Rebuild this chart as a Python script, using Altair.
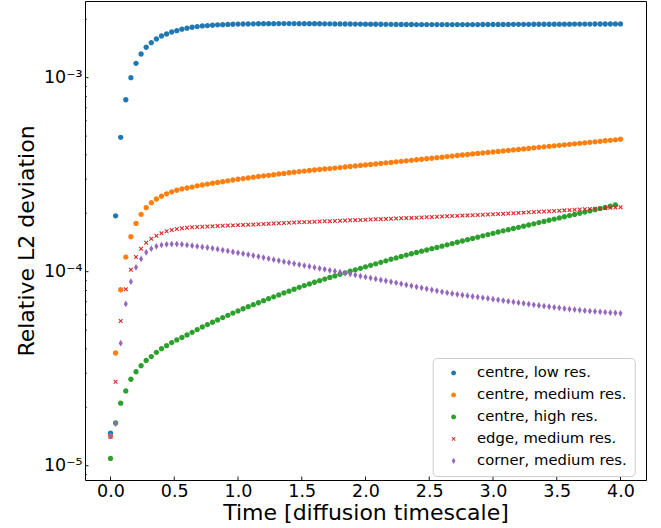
import altair as alt
import pandas as pd

# ---------------- data ----------------
series_names = ["centre, low res.", "centre, medium res.", "centre, high res.",
                "edge, medium res.", "corner, medium res."]
series_colors = ["#1f77b4", "#ff7f0e", "#2ca02c", "#d62728", "#9467bd"]

time_step = 0.04  # output interval in diffusion timescales

centre_low = [
    1.47e-5, 1.94e-4, 4.93e-4, 7.70e-4, 1.000e-3, 1.186e-3, 1.325e-3, 1.435e-3, 1.515e-3, 1.584e-3,
    1.640e-3, 1.680e-3, 1.720e-3, 1.747e-3, 1.778e-3, 1.800e-3, 1.820e-3, 1.835e-3, 1.848e-3, 1.857e-3,
    1.865e-3, 1.872e-3, 1.877e-3, 1.882e-3, 1.886e-3, 1.889e-3, 1.892e-3, 1.894e-3, 1.896e-3, 1.897e-3,
    1.898e-3, 1.899e-3, 1.899e-3, 1.900e-3, 1.900e-3, 1.900e-3, 1.900e-3, 1.899e-3, 1.899e-3, 1.898e-3,
    1.898e-3, 1.897e-3, 1.896e-3, 1.895e-3, 1.894e-3, 1.893e-3, 1.892e-3, 1.891e-3, 1.890e-3, 1.889e-3,
    1.888e-3, 1.887e-3, 1.886e-3, 1.885e-3, 1.884e-3, 1.883e-3, 1.882e-3, 1.881e-3, 1.880e-3, 1.880e-3,
    1.879e-3, 1.879e-3, 1.878e-3, 1.878e-3, 1.878e-3, 1.878e-3, 1.878e-3, 1.878e-3, 1.878e-3, 1.878e-3,
    1.879e-3, 1.879e-3, 1.879e-3, 1.880e-3, 1.880e-3, 1.881e-3, 1.881e-3, 1.882e-3, 1.882e-3, 1.883e-3,
    1.883e-3, 1.884e-3, 1.884e-3, 1.885e-3, 1.885e-3, 1.886e-3, 1.886e-3, 1.887e-3, 1.887e-3, 1.888e-3,
    1.888e-3, 1.889e-3, 1.889e-3, 1.890e-3, 1.890e-3, 1.891e-3, 1.891e-3, 1.892e-3, 1.892e-3, 1.893e-3,
    1.893e-3,
]

centre_medium = [
    1.42e-5, 3.81e-5, 8.07e-5, 1.190e-4, 1.514e-4, 1.774e-4, 1.976e-4, 2.138e-4, 2.270e-4, 2.370e-4,
    2.450e-4, 2.520e-4, 2.580e-4, 2.630e-4, 2.670e-4, 2.700e-4, 2.730e-4, 2.770e-4, 2.800e-4, 2.830e-4,
    2.860e-4, 2.885e-4, 2.910e-4, 2.940e-4, 2.970e-4, 2.995e-4, 3.020e-4, 3.045e-4, 3.070e-4, 3.095e-4,
    3.120e-4, 3.140e-4, 3.165e-4, 3.190e-4, 3.210e-4, 3.235e-4, 3.260e-4, 3.280e-4, 3.300e-4, 3.325e-4,
    3.345e-4, 3.365e-4, 3.385e-4, 3.400e-4, 3.420e-4, 3.440e-4, 3.465e-4, 3.485e-4, 3.505e-4, 3.530e-4,
    3.550e-4, 3.570e-4, 3.595e-4, 3.615e-4, 3.640e-4, 3.660e-4, 3.685e-4, 3.705e-4, 3.730e-4, 3.750e-4,
    3.775e-4, 3.800e-4, 3.820e-4, 3.845e-4, 3.870e-4, 3.895e-4, 3.920e-4, 3.945e-4, 3.970e-4, 3.995e-4,
    4.020e-4, 4.045e-4, 4.070e-4, 4.095e-4, 4.120e-4, 4.145e-4, 4.170e-4, 4.195e-4, 4.220e-4, 4.245e-4,
    4.270e-4, 4.295e-4, 4.320e-4, 4.350e-4, 4.375e-4, 4.400e-4, 4.430e-4, 4.455e-4, 4.480e-4, 4.510e-4,
    4.535e-4, 4.560e-4, 4.590e-4, 4.615e-4, 4.645e-4, 4.670e-4, 4.700e-4, 4.730e-4, 4.755e-4, 4.785e-4,
    4.815e-4,
]

centre_high = [
    1.09e-5, 1.66e-5, 2.10e-5, 2.43e-5, 2.79e-5, 3.05e-5, 3.28e-5, 3.49e-5, 3.65e-5, 3.84e-5,
    4.01e-5, 4.155e-5, 4.31e-5, 4.45e-5, 4.58e-5, 4.72e-5, 4.87e-5, 5.03e-5, 5.19e-5, 5.34e-5,
    5.49e-5, 5.64e-5, 5.80e-5, 5.96e-5, 6.12e-5, 6.28e-5, 6.44e-5, 6.60e-5, 6.76e-5, 6.92e-5,
    7.09e-5, 7.26e-5, 7.42e-5, 7.59e-5, 7.77e-5, 7.94e-5, 8.12e-5, 8.31e-5, 8.48e-5, 8.65e-5,
    8.82e-5, 8.99e-5, 9.16e-5, 9.34e-5, 9.51e-5, 9.70e-5, 9.87e-5, 1.005e-4, 1.023e-4, 1.041e-4,
    1.060e-4, 1.079e-4, 1.098e-4, 1.118e-4, 1.138e-4, 1.159e-4, 1.178e-4, 1.199e-4, 1.218e-4, 1.237e-4,
    1.256e-4, 1.276e-4, 1.294e-4, 1.314e-4, 1.334e-4, 1.354e-4, 1.375e-4, 1.396e-4, 1.418e-4, 1.440e-4,
    1.462e-4, 1.485e-4, 1.506e-4, 1.530e-4, 1.553e-4, 1.577e-4, 1.602e-4, 1.625e-4, 1.646e-4, 1.670e-4,
    1.694e-4, 1.716e-4, 1.741e-4, 1.766e-4, 1.791e-4, 1.815e-4, 1.841e-4, 1.867e-4, 1.894e-4, 1.919e-4,
    1.946e-4, 1.974e-4, 2.000e-4, 2.029e-4, 2.058e-4, 2.087e-4, 2.115e-4, 2.145e-4, 2.176e-4, 2.207e-4,
]

edge_medium = [
    1.41e-5, 2.71e-5, 5.57e-5, 8.11e-5, 1.024e-4, 1.191e-4, 1.314e-4, 1.411e-4, 1.480e-4, 1.533e-4,
    1.578e-4, 1.615e-4, 1.640e-4, 1.660e-4, 1.674e-4, 1.686e-4, 1.694e-4, 1.700e-4, 1.705e-4, 1.709e-4,
    1.714e-4, 1.719e-4, 1.724e-4, 1.729e-4, 1.733e-4, 1.738e-4, 1.743e-4, 1.748e-4, 1.753e-4, 1.758e-4,
    1.763e-4, 1.768e-4, 1.773e-4, 1.777e-4, 1.782e-4, 1.787e-4, 1.792e-4, 1.797e-4, 1.801e-4, 1.805e-4,
    1.810e-4, 1.814e-4, 1.818e-4, 1.822e-4, 1.827e-4, 1.831e-4, 1.835e-4, 1.840e-4, 1.844e-4, 1.849e-4,
    1.853e-4, 1.857e-4, 1.862e-4, 1.866e-4, 1.871e-4, 1.875e-4, 1.880e-4, 1.884e-4, 1.889e-4, 1.894e-4,
    1.899e-4, 1.904e-4, 1.909e-4, 1.914e-4, 1.920e-4, 1.925e-4, 1.930e-4, 1.935e-4, 1.940e-4, 1.946e-4,
    1.951e-4, 1.956e-4, 1.962e-4, 1.967e-4, 1.972e-4, 1.978e-4, 1.983e-4, 1.990e-4, 1.996e-4, 2.003e-4,
    2.010e-4, 2.016e-4, 2.023e-4, 2.030e-4, 2.036e-4, 2.043e-4, 2.050e-4, 2.057e-4, 2.064e-4, 2.071e-4,
    2.077e-4, 2.084e-4, 2.091e-4, 2.098e-4, 2.105e-4, 2.112e-4, 2.120e-4, 2.127e-4, 2.134e-4, 2.141e-4,
    2.148e-4,
]

corner_medium = [
    1.42e-5, 1.65e-5, 4.28e-5, 6.82e-5, 8.88e-5, 1.054e-4, 1.163e-4, 1.259e-4, 1.314e-4, 1.352e-4,
    1.373e-4, 1.384e-4, 1.389e-4, 1.389e-4, 1.384e-4, 1.373e-4, 1.362e-4, 1.352e-4, 1.342e-4, 1.331e-4,
    1.319e-4, 1.306e-4, 1.292e-4, 1.279e-4, 1.265e-4, 1.251e-4, 1.238e-4, 1.225e-4, 1.211e-4, 1.196e-4,
    1.182e-4, 1.168e-4, 1.154e-4, 1.141e-4, 1.127e-4, 1.114e-4, 1.101e-4, 1.088e-4, 1.076e-4, 1.064e-4,
    1.052e-4, 1.040e-4, 1.029e-4, 1.017e-4, 1.006e-4, 9.94e-5, 9.83e-5, 9.72e-5, 9.62e-5, 9.50e-5,
    9.39e-5, 9.29e-5, 9.18e-5, 9.07e-5, 8.97e-5, 8.87e-5, 8.77e-5, 8.66e-5, 8.56e-5, 8.46e-5,
    8.36e-5, 8.26e-5, 8.16e-5, 8.07e-5, 7.97e-5, 7.88e-5, 7.79e-5, 7.71e-5, 7.65e-5, 7.58e-5,
    7.52e-5, 7.46e-5, 7.40e-5, 7.34e-5, 7.28e-5, 7.22e-5, 7.16e-5, 7.10e-5, 7.04e-5, 6.98e-5,
    6.92e-5, 6.87e-5, 6.81e-5, 6.75e-5, 6.70e-5, 6.65e-5, 6.60e-5, 6.55e-5, 6.51e-5, 6.46e-5,
    6.42e-5, 6.38e-5, 6.34e-5, 6.30e-5, 6.27e-5, 6.24e-5, 6.21e-5, 6.18e-5, 6.15e-5, 6.13e-5,
    6.10e-5,
]

x_tick_values = [0.0, 0.5, 1.0, 1.5, 2.0, 2.5, 3.0, 3.5, 4.0]
y_major_values = [1e-5, 1e-4, 1e-3]
y_minor_values = [9e-6,
                  2e-5, 3e-5, 4e-5, 5e-5, 6e-5, 7e-5, 8e-5, 9e-5,
                  2e-4, 3e-4, 4e-4, 5e-4, 6e-4, 7e-4, 8e-4, 9e-4,
                  2e-3]

all_series = [centre_low, centre_medium, centre_high, edge_medium, corner_medium]
assert [len(s) for s in all_series] == [101, 101, 100, 101, 101], [len(s) for s in all_series]

rows = []
for name, vals in zip(series_names, all_series):
    for i, v in enumerate(vals):
        rows.append({"t": round(i * time_step, 2), "v": v, "series": name})
df = pd.DataFrame(rows)

# ---------------- marker shapes (unit box [-1, 1]) ----------------
circle_path = "M0.76,0A0.76,0.76,0,1,1,-0.76,0A0.76,0.76,0,1,1,0.76,0Z"
x_path = ("M-0.64,-0.42L-0.42,-0.64L0,-0.22L0.42,-0.64L0.64,-0.42L0.22,0"
          "L0.64,0.42L0.42,0.64L0,0.22L-0.42,0.64L-0.64,0.42L-0.22,0Z")
thin_diamond_path = "M0,-0.96L0.58,0L0,0.96L-0.58,0Z"
series_shapes = [circle_path, circle_path, circle_path, x_path, thin_diamond_path]

# ---------------- chart ----------------
W, H = 561, 479
FONT = "DejaVu Sans"
xscale = alt.Scale(domain=[-0.2, 4.2], nice=False, zero=False)
yscale = alt.Scale(type="log", domain=[8.44e-6, 2.485e-3], nice=False)

x_axis = alt.Axis(
    values=x_tick_values, format=".1f", title="Time [diffusion timescale]",
    ticks=False, domain=False, grid=False,
    labelFontSize=17.5, labelFont=FONT, labelColor="black",
    labelBaseline="alphabetic", labelPadding=16.5,
    titleFontSize=22, titleFont=FONT, titleFontWeight="normal", titleColor="black",
    titleBaseline="alphabetic", titleY=39)

y_axis = alt.Axis(
    values=y_major_values,
    labelExpr="datum.value < 3e-5 ? '10\u207b\u2075' : (datum.value < 3e-4 ? '10\u207b\u2074' : '10\u207b\u00b3')",
    title="Relative L2 deviation",
    ticks=False, domain=False, grid=False,
    labelFontSize=17.5, labelFont=FONT, labelColor="black", labelPadding=3,
    labelBaseline="middle",
    titleFontSize=22, titleFont=FONT, titleFontWeight="normal", titleColor="black",
    titleAngle=270, titleBaseline="alphabetic", titleAlign="center",
    titleX=-52, titleY=H / 2)

legend = alt.Legend(
    title=None, orient="none", legendX=347.7, legendY=357,
    labelFontSize=14.8, labelFont=FONT, labelColor="black", labelLimit=400,
    symbolSize=40, symbolStrokeWidth=0, padding=7.5, rowPadding=6,
    symbolOffset=6, labelOffset=16,
    strokeColor="#cccccc", fillColor="rgba(255,255,255,0.8)", cornerRadius=4,
)

points = alt.Chart(df).mark_point(filled=True, opacity=1, size=49, strokeWidth=0).encode(
    x=alt.X("t:Q", scale=xscale, axis=x_axis),
    y=alt.Y("v:Q", scale=yscale, axis=y_axis),
    color=alt.Color("series:N", scale=alt.Scale(domain=series_names, range=series_colors), legend=legend),
    shape=alt.Shape("series:N", scale=alt.Scale(domain=series_names, range=series_shapes), legend=legend),
)

x_ticks = alt.Chart(pd.DataFrame({"t": x_tick_values})).mark_rule(color="black", strokeWidth=0.9).encode(
    x=alt.X("t:Q", scale=xscale, axis=x_axis),
    y=alt.value(H), y2=alt.value(H - 3.5),
)
y_major = alt.Chart(pd.DataFrame({"v": y_major_values})).mark_rule(color="black", strokeWidth=0.9).encode(
    y=alt.Y("v:Q", scale=yscale, axis=y_axis),
    x=alt.value(0), x2=alt.value(3.5),
)
y_minor = alt.Chart(pd.DataFrame({"v": y_minor_values})).mark_rule(color="black", strokeWidth=0.7).encode(
    y=alt.Y("v:Q", scale=yscale, axis=y_axis),
    x=alt.value(0), x2=alt.value(2),
)

chart = (
    alt.layer(points, x_ticks, y_major, y_minor)
    .properties(width=W, height=H,
                padding={"left": 85, "top": 1, "right": 15, "bottom": 48},
                autosize=alt.AutoSizeParams(type="none"))
    .configure(font=FONT)
    .configure_view(stroke="black", strokeWidth=1)
)

chart.save("out.html", embed_options={"renderer": "svg", "actions": False})
